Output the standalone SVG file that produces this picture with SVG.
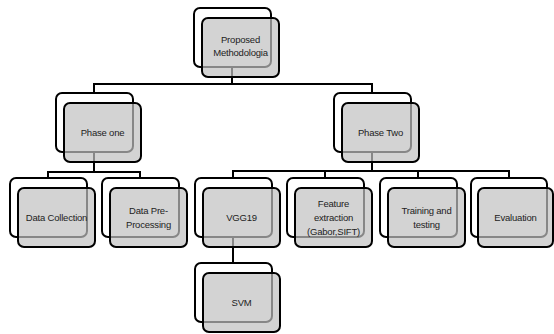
<svg xmlns="http://www.w3.org/2000/svg" width="554" height="334" viewBox="0 0 554 334">
<style>
.back{fill:#fff;stroke:#000;stroke-width:2}
.front{fill:#c0c0c0;fill-opacity:0.7;stroke:#000;stroke-width:2}
.conn{fill:none;stroke:#000;stroke-width:2}
text{font-family:"Liberation Sans",Arial,sans-serif;font-size:9.5px;letter-spacing:-0.2px;fill:#222;text-anchor:middle}
</style>
<rect width="554" height="334" fill="#fff"/>
<g id="connectors">
<path class="conn" d="M232,67 V84 M94,93 V84 H372 V93"/>
<path class="conn" d="M94,152 V172 M48,178 V172 H140 V178"/>
<path class="conn" d="M372,152 V171 M233,178 V171 H509 V178 M325,171 V178 M418,171 V178"/>
<path class="conn" d="M233,237 V263"/>
</g>
<g id="n-top"><rect class="back" x="194" y="8" width="77" height="59" rx="6"/><rect class="front" x="202" y="18" width="77" height="59" rx="6"/><text x="240.5" y="43">Proposed</text><text x="240.5" y="56">Methodologia</text></g>
<g id="n-phase1"><rect class="back" x="56" y="93" width="77" height="59" rx="6"/><rect class="front" x="64" y="103" width="77" height="59" rx="6"/><text x="102.5" y="136">Phase one</text></g>
<g id="n-phase2"><rect class="back" x="334" y="93" width="77" height="59" rx="6"/><rect class="front" x="342" y="103" width="77" height="59" rx="6"/><text x="380.5" y="136">Phase Two</text></g>
<g id="n-datacoll"><rect class="back" x="10" y="178" width="77" height="59" rx="6"/><rect class="front" x="18" y="188" width="77" height="59" rx="6"/><text x="56.5" y="221">Data Collection</text></g>
<g id="n-datapre"><rect class="back" x="102" y="178" width="77" height="59" rx="6"/><rect class="front" x="110" y="188" width="77" height="59" rx="6"/><text x="148.5" y="214">Data Pre-</text><text x="148.5" y="228">Processing</text></g>
<g id="n-vgg"><rect class="back" x="195" y="178" width="77" height="59" rx="6"/><rect class="front" x="203" y="188" width="77" height="59" rx="6"/><text x="241.5" y="221">VGG19</text></g>
<g id="n-feature"><rect class="back" x="287" y="178" width="77" height="59" rx="6"/><rect class="front" x="295" y="188" width="77" height="59" rx="6"/><text x="333.5" y="207">Feature</text><text x="333.5" y="221">extraction</text><text x="333.5" y="235">(Gabor,SIFT)</text></g>
<g id="n-training"><rect class="back" x="380" y="178" width="77" height="59" rx="6"/><rect class="front" x="388" y="188" width="77" height="59" rx="6"/><text x="426.5" y="214">Training and</text><text x="426.5" y="228">testing</text></g>
<g id="n-eval"><rect class="back" x="471" y="178" width="76" height="59" rx="6"/><rect class="front" x="478" y="188" width="75" height="59" rx="6"/><text x="515.5" y="221">Evaluation</text></g>
<g id="n-svm"><rect class="back" x="195" y="263" width="77" height="59" rx="6"/><rect class="front" x="203" y="273" width="77" height="59" rx="6"/><text x="241.5" y="306">SVM</text></g>
</svg>
